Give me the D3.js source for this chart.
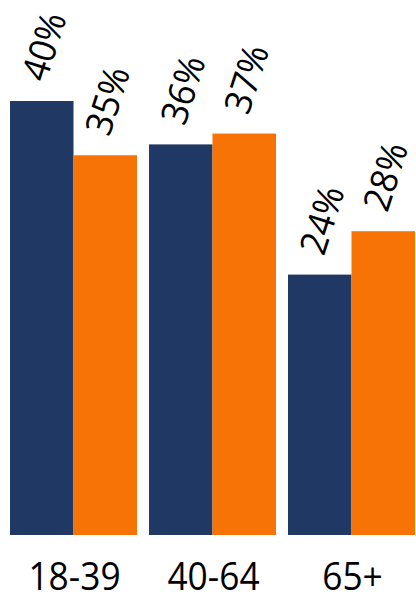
<!DOCTYPE html>
<html>
<head>
<meta charset="utf-8">
<script src="https://cdn.jsdelivr.net/npm/d3@7"></script>
<style>
  html, body { margin: 0; padding: 0; background: #fff; }
  svg { display: block; }
  text { font-family: "Open Sans", "Liberation Sans", sans-serif; fill: #000; }
</style>
</head>
<body>
<script>
const categories = ["18-39", "40-64", "65+"];
const seriesNames = ["Series A", "Series B"];
const seriesA = [40, 36, 24];
const seriesB = [35, 37, 28];
const colors = ["#1f3864", "#f87306"];

const W = 416, H = 596;
const svg = d3.select("body").append("svg").attr("width", W).attr("height", H);

const x0 = d3.scaleBand().domain(categories).range([10, 415]).paddingInner(0.0863).paddingOuter(0);
const x1 = d3.scaleBand().domain(seriesNames).range([0, x0.bandwidth()]).padding(0);
const y = d3.scaleLinear().domain([0, 40]).range([535, 101]);

const data = categories.map((c, i) => ({
  cat: c,
  vals: [{ s: seriesNames[0], v: seriesA[i], c: colors[0] }, { s: seriesNames[1], v: seriesB[i], c: colors[1] }]
}));

const g = svg.selectAll("g.grp").data(data).enter().append("g")
  .attr("class", "grp")
  .attr("transform", d => `translate(${x0(d.cat)},0)`);

g.selectAll("rect").data(d => d.vals).enter().append("rect")
  .attr("x", d => x1(d.s))
  .attr("y", d => y(d.v))
  .attr("width", x1.bandwidth())
  .attr("height", d => y(0) - y(d.v))
  .attr("fill", d => d.c);

g.selectAll("text.val").data(d => d.vals).enter().append("text")
  .attr("class", "val")
  .attr("text-anchor", "middle")
  .attr("dominant-baseline", "central")
  .attr("font-size", 37)
  .attr("transform", d => `translate(${x1(d.s) + x1.bandwidth() / 2 + 1},${y(d.v) - 55}) rotate(-72) scale(0.95,1)`)
  .text(d => d.v + "%");

svg.append("g").selectAll("text.cat").data(categories).enter().append("text")
  .attr("class", "cat")
  .attr("text-anchor", "middle")
  .attr("font-size", 38)
  .attr("transform", d => `translate(${x0(d) + x0.bandwidth() / 2 + 1},590) scale(0.93,1)`)
  .text(d => d);
</script>
</body>
</html>
